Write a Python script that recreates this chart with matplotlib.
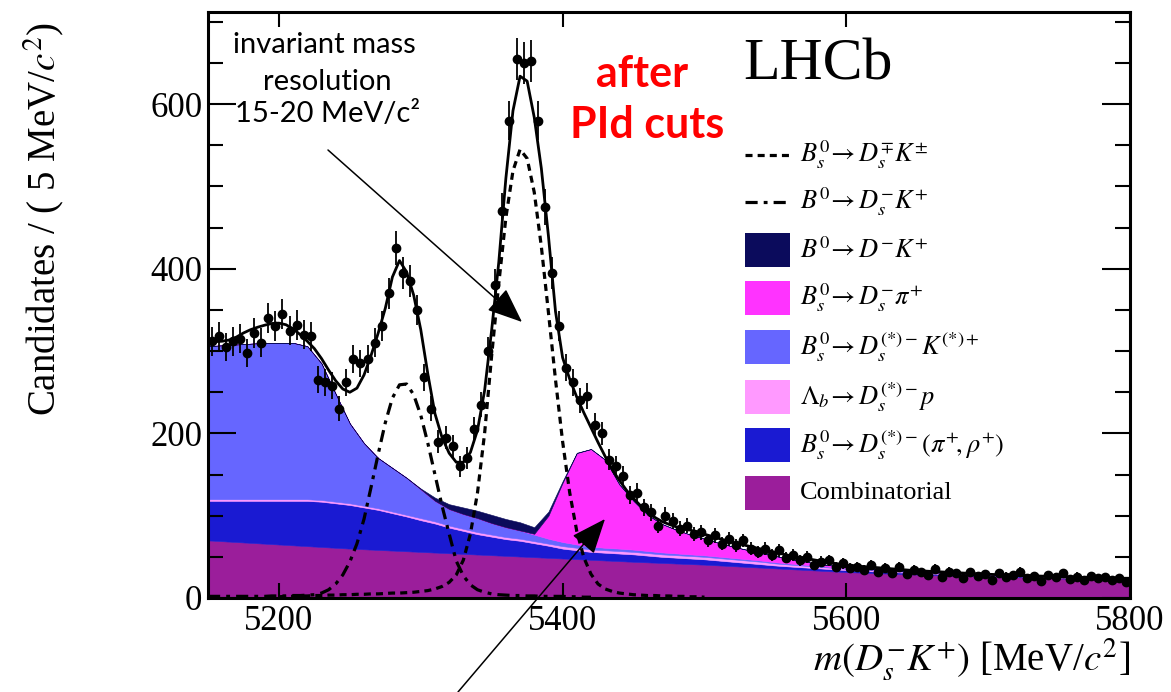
import numpy as np
import matplotlib
matplotlib.use("Agg")
import matplotlib.pyplot as plt
from matplotlib.patches import Rectangle
from matplotlib.ticker import MultipleLocator

plt.rcParams["mathtext.fontset"] = "stix"
plt.rcParams["font.family"] = ["Liberation Serif", "DejaVu Serif"]

W, H = 1171, 692

# stacked background components, read every 10 MeV from 5150 to 5800
comb = [70, 69, 68, 67, 66, 65, 64, 63, 62, 61,
        60, 59.2, 58.4, 57.6, 56.8, 56, 55.2, 54.4, 53.6, 52.8,
        52, 51.2, 50.4, 49.6, 48.8, 48, 47.2, 46.4, 45.6, 44.8,
        44, 43.3, 42.6, 41.9, 41.2, 40.5, 39.6, 38.7, 37.8, 36.9,
        36, 35.1, 34.2, 33.3, 32.4, 31.5, 30.9, 30.3, 29.7, 29.1,
        28.5, 28.0, 27.6, 27.2, 26.8, 26.3, 25.8, 25.3, 24.8, 24.3,
        23.8, 23.3, 22.9, 22.5, 22.1, 21.7]
ds_pirho = [48, 49, 50, 51, 52, 53, 54, 55, 55, 54,
            53, 50.8, 48.6, 45.4, 42.2, 38.5, 35.3, 31.1, 27.9, 24.7,
            22.5, 20.3, 19.1, 16.9, 14.7, 12, 10.8, 9.6, 9.4, 9.2,
            9, 8.2, 7.4, 7.1, 6.8, 6.5, 5.9, 5.3, 4.7, 4.1,
            3.5, 3.2, 3.0, 2.8, 2.6, 2.4, 2.2, 2.0, 1.9, 1.8,
            1.7, 1.6, 1.5, 1.4, 1.3, 1.2, 1.1, 1.0, 1.0, 0.9,
            0.9, 0.8, 0.8, 0.7, 0.7, 0.6]
lb_dsp = [2, 2, 2, 2, 2, 2, 2, 2, 2, 2,
          2, 2, 2, 2, 2, 2.5, 2.5, 2.5, 2.5, 2.5,
          2.5, 2.5, 2.5, 2.5, 2.5, 3, 3, 3, 3, 3,
          3, 3, 3, 3, 3, 3, 3, 3, 3, 3,
          2.5, 2.3, 2.1, 1.9, 1.7, 1.5, 1.4, 1.3, 1.2, 1.1,
          1, 1, 1, 1, 1, 0.8, 0.8, 0.8, 0.8, 0.8,
          0.8, 0.8, 0.8, 0.8, 0.8, 0.8]
dsk_star = [186, 187, 188, 189, 190, 190, 190, 186, 166, 131,
            97, 76, 61, 53, 45, 35, 25, 20, 18, 17,
            14, 12, 10, 8, 6, 5, 4, 3.5, 3, 3,
            2.8, 2.6, 2.4, 2.2, 2.0, 1.9, 1.8, 1.7, 1.6, 1.5,
            1.4, 1.3, 1.2, 1.1, 1.0, 1.0, 0.9, 0.9, 0.8, 0.8,
            0.7, 0.7, 0.6, 0.6, 0.5, 0.5, 0.5, 0.4, 0.4, 0.4,
            0.4, 0.3, 0.3, 0.3, 0.3, 0.3]
ds_pi = [0] * 23 + [1, 28, 72, 111, 118.5, 107, 78, 59.2, 43.9, 34.6,
                    28.8, 24, 20.1, 16.7, 13.8, 11.4, 9, 7.6, 5.6, 4,
                    2.4, 1.8, 1.2, 0.8, 0.5, 0.3, 0.1] + [0] * 16
d_k = [0] * 15 + [1, 4, 6, 8, 9, 10, 10, 10, 8, 5, 2, 0.5] + [0] * 39

# signal peaks, 5 MeV steps
bs_start = 5200
bs_dsk = [1.5, 2, 2, 2.5, 2.5, 3, 3, 3.5, 3.5, 4,
          4, 4.5, 4.5, 5, 5, 5.5, 6, 6, 6.5, 7,
          8, 9, 11, 14, 19, 28, 46, 78, 128, 200,
          295, 382, 462, 519, 545, 534, 493, 427, 347, 265,
          190, 128, 81, 49, 29, 17, 11, 8, 6, 5,
          4, 3.5, 3, 3, 2.5, 2.5, 2, 2, 1.5, 1.5, 1]
b0_start = 5150
b0_dsk = [2, 2, 2, 2, 2, 2, 2, 2, 2,
          2.5, 2.5, 2.5, 3, 3, 3.5, 4, 6, 10, 17,
          28, 44, 66, 96, 135, 175, 213, 243, 259, 260,
          247, 222, 188, 150, 112, 78, 45, 27, 16, 10,
          7, 5, 4, 3.5, 3, 3, 2.5, 2.5, 2, 2,
          2, 2, 1.5, 1.5, 1, 1]

# total fit, 5 MeV steps from 5150 to 5800
total_fit = [311, 311.5, 312, 313.5, 317, 322, 326, 329, 331.5, 333.5,
             334, 332, 327, 320, 312, 303, 291, 277, 264, 254,
             250, 255, 271, 295, 322, 352, 390, 410, 396, 368,
             326, 272, 224, 195, 176, 165, 165, 177, 204, 252,
             326, 408, 510, 592, 634, 628, 584, 522, 440, 348,
             292, 266, 244, 225, 207, 189, 172, 156, 143, 131,
             121, 112, 104, 98, 93, 89.5, 86.5, 84.5, 82.5, 80,
             77.5, 75, 72.5, 70, 67.5, 65.5, 63.5, 61.5, 59.5, 57.5,
             55.5, 53.5, 51.5, 50, 48.5, 47, 45.5, 44, 42.5, 41.2,
             40, 39.2, 38.5, 37.8, 37, 36.3, 35.6, 35, 34.3, 33.7,
             33.2, 32.7, 32.3, 31.9, 31.5, 31, 30.5, 30, 29.6, 29.2,
             28.8, 28.5, 28.2, 27.9, 27.6, 27.3, 27, 26.7, 26.4, 26.1,
             25.8, 25.5, 25.3, 25.1, 24.9, 24.7, 24.5, 24.3, 24.1, 24,
             24]

# candidates per 5 MeV bin, centres 5152.5 ... 5797.5
counts = [312, 318, 305, 312, 315, 298, 322, 310, 340, 330,
          345, 325, 332, 320, 318, 265, 262, 258, 230, 262,
          290, 285, 290, 310, 330, 370, 425, 395, 385, 350,
          268, 230, 190, 195, 185, 160, 170, 205, 235, 300,
          380, 470, 580, 655, 650, 652, 580, 475, 395, 330,
          280, 262, 240, 245, 210, 200, 168, 160, 148, 125,
          128, 110, 104, 88, 100, 94, 84, 88, 78, 80,
          70, 76, 66, 72, 64, 70, 60, 56, 60, 52,
          58, 49, 52, 46, 50, 40, 44, 46, 38, 42,
          36, 38, 34, 40, 32, 36, 30, 38, 29, 34,
          31, 28, 35, 26, 32, 30, 24, 31, 27, 29,
          22, 30, 26, 28, 32, 24, 27, 21, 28, 25,
          30, 23, 26, 22, 27, 24, 25, 22, 24, 19]

legend_labels = [r"$B_s^0\!\rightarrow D_s^{\mp}K^{\pm}$",
                 r"$B^0\!\rightarrow D_s^{-}K^{+}$",
                 r"$B^0\!\rightarrow D^{-}K^{+}$",
                 r"$B_s^0\!\rightarrow D_s^{-}\pi^{+}$",
                 r"$B_s^0\!\rightarrow D_s^{(*)-}K^{(*)+}$",
                 r"$\Lambda_b\!\rightarrow D_s^{(*)-}p$",
                 r"$B_s^0\!\rightarrow D_s^{(*)-}(\pi^{+}\!,\rho^{+})$",
                 "Combinatorial"]

m_bkg = np.arange(5150, 5801, 10)
m_fine = np.arange(5150, 5801, 5)
centres = np.arange(5152.5, 5800, 5)
counts = np.array(counts, dtype=float)

# stack order bottom -> top
layers = [(comb, "#9B1E9B"), (ds_pirho, "#1A1AD2"), (lb_dsp, "#FF99FF"),
          (dsk_star, "#6666FF"), (ds_pi, "#FF33FF"), (d_k, "#0B0B5C")]

fig = plt.figure(figsize=(W / 100, H / 100), dpi=100)
ax = fig.add_axes([208 / W, (H - 598) / H, (1130 - 208) / W, (598 - 12) / H])

base = np.zeros(len(m_bkg))
for vals, col in layers:
    top = base + np.array(vals, dtype=float)
    ax.fill_between(m_bkg, base, top, facecolor=col, edgecolor=col, lw=0.4, zorder=1)
    base = top

x_bs = bs_start + 5 * np.arange(len(bs_dsk))
x_b0 = b0_start + 5 * np.arange(len(b0_dsk))
ax.plot(x_bs, bs_dsk, color="k", lw=2.3, ls=(0, (2.2, 1.6)), zorder=3)
ax.plot(x_b0, b0_dsk, color="k", lw=2.3, ls=(0, (3.8, 1.9, 1.2, 1.9)), zorder=3)
ax.plot(m_fine, total_fit, color="k", lw=2.0, zorder=4)
ax.errorbar(centres, counts, yerr=np.sqrt(counts), xerr=2.5, fmt="o", ms=6,
            color="k", elinewidth=1.3, capsize=0, zorder=5)

ax.set_xlim(5150, 5800)
ax.set_ylim(0, 712)
ax.set_xticks([5200, 5400, 5600, 5800])
ax.set_yticks([0, 200, 400, 600])
ax.yaxis.set_minor_locator(MultipleLocator(50))
ax.tick_params(which="both", direction="in", top=True, right=True, width=1.5)
ax.tick_params(axis="y", which="major", length=20, pad=4)
ax.tick_params(axis="y", which="minor", length=11)
ax.tick_params(axis="x", which="major", length=11, pad=5)
ax.tick_params(labelsize=25)
for sp in ax.spines.values():
    sp.set_linewidth(2.2)

# overlay in image pixel coordinates for labels, legend and notes
ov = fig.add_axes([0, 0, 1, 1], zorder=5)
ov.set_xlim(0, W)
ov.set_ylim(H, 0)
ov.axis("off")

ov.text(44, 22, r"Candidates / ( 5 MeV/$c^{2}$)", rotation=90, ha="center",
        va="top", fontsize=28)
ov.text(1130, 660, r"$m(D_s^{-}K^{+})$ [MeV/$c^{2}$]", ha="right", va="center",
        fontsize=28)
ov.text(818, 66, "LHCb", ha="center", va="center", fontsize=43)

ov.text(324, 45, "invariant mass", ha="center", va="center", fontsize=21, family="Lato")
ov.text(327, 82, "resolution", ha="center", va="center", fontsize=21, family="Lato")
ov.text(328, 114, "15-20 MeV/c²", ha="center", va="center", fontsize=21, family="Lato")
ov.text(642, 74, "after", ha="center", va="center", fontsize=31, color="#FF0000",
        weight="bold", family="Lato")
ov.text(647, 125, "PId cuts", ha="center", va="center", fontsize=31, color="#FF0000",
        weight="bold", family="Lato")

arrow = dict(arrowstyle="-|>,head_length=1.1,head_width=0.45", mutation_scale=20,
             lw=1.1, color="k", shrinkA=0, shrinkB=0)
ov.annotate("", xy=(522, 322), xytext=(328, 150), arrowprops=arrow)
ov.annotate("", xy=(605, 519), xytext=(458, 692), arrowprops=arrow)

rows = [155, 202, 250, 298, 347, 397, 445, 493]
ov.plot([745, 790], [rows[0]] * 2, color="k", lw=2.3, ls=(0, (2.2, 1.6)))
ov.plot([745, 790], [rows[1]] * 2, color="k", lw=2.3, ls=(0, (3.8, 1.9, 1.2, 1.9)))
box_cols = ["#0B0B5C", "#FF33FF", "#6666FF", "#FF99FF", "#1A1AD2", "#9B1E9B"]
for y, col in zip(rows[2:], box_cols):
    ov.add_patch(Rectangle((745, y - 17), 45, 34, facecolor=col, edgecolor="none"))
for y, lab in zip(rows, legend_labels):
    ov.text(800, y, lab, ha="left", va="center", fontsize=19)

fig.savefig("out.png", dpi=100)
